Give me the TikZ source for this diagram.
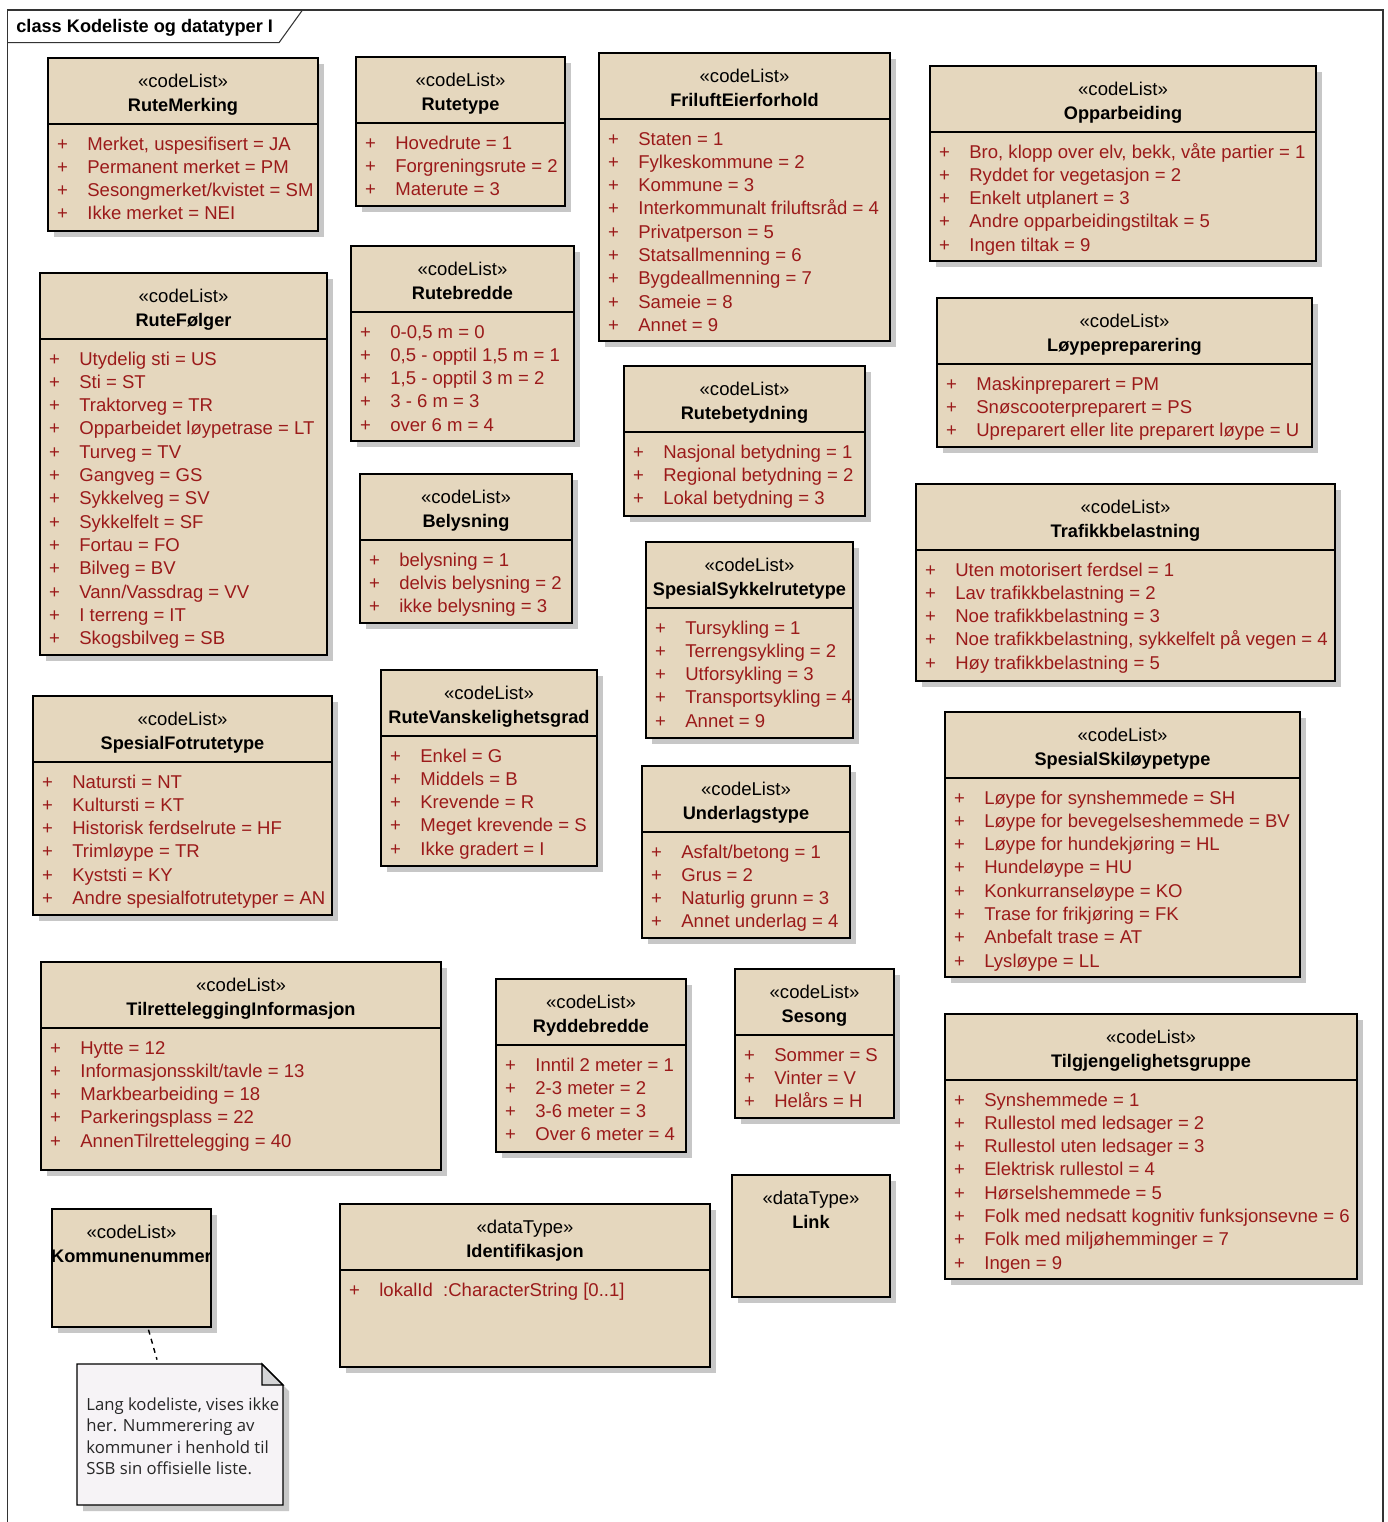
\documentclass[tikz,border=0pt]{standalone}
\usepackage{fontspec}
\setmainfont{Liberation Sans}
\newfontfamily\notefont{Open Sans}
\usetikzlibrary{fit}

\definecolor{clsfill}{RGB}{229,215,190}
\definecolor{attrred}{RGB}{155,26,26}
\definecolor{notefill}{RGB}{246,243,246}
\definecolor{foldfill}{RGB}{212,212,214}

\newcommand{\umlfont}{\fontsize{10.55}{12}\selectfont}
\newcommand{\umlbold}{\fontsize{10.35}{12}\selectfont\bfseries}

\tikzset{
    classbox/.style={draw=black, line width=0.8pt, fill=clsfill, inner sep=0pt},
    classline/.style={black, line width=0.8pt},
    boxshadow/.style={fill=black!22},
    stereo/.style={font=\umlfont, inner sep=0pt, anchor=base},
    clsname/.style={font=\umlbold, inner sep=0pt, anchor=base},
    plusmark/.style={font=\umlfont, text=attrred, inner sep=0pt, anchor=base},
    attr/.style={font=\umlfont, text=attrred, inner sep=0pt, anchor=base west},
    noteline/.style={black, line width=0.8pt},
    notelink/.style={black, line width=0.8pt, dash pattern=on 0.1cm off 0.09cm}
}

% #1 name, #2 left, #3 top, #4 right, #5 bottom, #6 stereotype, #7 class name, #8 attributes
\newcommand{\umlclass}[8]{
    \fill[boxshadow] (#2+6,#3+6) rectangle (#4+6,#5+6);
    \path (#2,#3) coordinate (#1-nw) (#4,#5) coordinate (#1-se);
    \node[classbox, fit=(#1-nw)(#1-se)] (#1) {};
    \node[stereo] (#1-st) at ({(#2+#4)/2},#3+29.5) {#6};
    \node[clsname] (#1-nm) at ({(#2+#4)/2},#3+53.5) {#7};
    \if\relax\detokenize{#8}\relax\else
        \draw[classline] (#2,#3+66) -- (#4,#3+66);
        \foreach \txt [count=\i from 0] in {#8} {
            \node[plusmark] at (#2+14.5,#3+92+23.3*\i) {+};
            \node[attr] (#1-a\i) at (#2+39,#3+92+23.3*\i) {\txt};
        }
    \fi
}

\begin{document}
\begin{tikzpicture}[x=0.02cm, y=-0.02cm]
    \useasboundingbox[fill=white] (0,0) rectangle (1387,1522);

    % frame
    \draw[black!80, line width=0.6pt] (7.5,1522) -- (7.5,10) -- (1383,10) -- (1383,1522);
    \draw[black!80, line width=0.6pt] (7.5,42.7) -- (279,42.7) -- (302.5,10);
    \node[font=\umlbold, inner sep=0pt, anchor=base west] (title) at (16,32.5) {class Kodeliste og datatyper I};

    % first column
    \umlclass{rutemerking}{48}{58}{318}{231}{«codeList»}{RuteMerking}
        {{Merket, uspesifisert = JA}, Permanent merket = PM, Sesongmerket/kvistet = SM, Ikke merket = NEI}
    \umlclass{rutefolger}{40}{273}{327}{655}{«codeList»}{RuteFølger}
        {Utydelig sti = US, Sti = ST, Traktorveg = TR, Opparbeidet løypetrase = LT, Turveg = TV,
         Gangveg = GS, Sykkelveg = SV, Sykkelfelt = SF, Fortau = FO, Bilveg = BV,
         Vann/Vassdrag = VV, I terreng = IT, Skogsbilveg = SB}
    \umlclass{fotrute}{33}{696}{332}{915}{«codeList»}{SpesialFotrutetype}
        {Natursti = NT, Kultursti = KT, Historisk ferdselrute = HF, Trimløype = TR, Kyststi = KY,
         Andre spesialfotrutetyper = AN}
    \umlclass{tilrettelegging}{41}{962}{441}{1170}{«codeList»}{TilretteleggingInformasjon}
        {Hytte = 12, Informasjonsskilt/tavle = 13, Markbearbeiding = 18, Parkeringsplass = 22,
         AnnenTilrettelegging = 40}
    \umlclass{kommunenummer}{52}{1209}{211}{1327}{«codeList»}{Kommunenummer}{}

    % second column
    \umlclass{rutetype}{356}{57}{565}{206}{«codeList»}{Rutetype}
        {Hovedrute = 1, Forgreningsrute = 2, Materute = 3}
    \umlclass{rutebredde}{351}{246}{574}{441}{«codeList»}{Rutebredde}
        {{0-0,5 m = 0}, {0,5 - opptil 1,5 m = 1}, {1,5 - opptil 3 m = 2}, 3 - 6 m = 3, over 6 m = 4}
    \umlclass{belysning}{360}{474}{572}{623}{«codeList»}{Belysning}
        {belysning = 1, delvis belysning = 2, ikke belysning = 3}
    \umlclass{vanskelighet}{381}{670}{597}{866}{«codeList»}{RuteVanskelighetsgrad}
        {Enkel = G, Middels = B, Krevende = R, Meget krevende = S, Ikke gradert = I}
    \umlclass{ryddebredde}{496}{979}{686}{1152}{«codeList»}{Ryddebredde}
        {Inntil 2 meter = 1, 2-3 meter = 2, 3-6 meter = 3, Over 6 meter = 4}
    \umlclass{identifikasjon}{340}{1204}{710}{1367}{«dataType»}{Identifikasjon}
        {lokalId\ \ :CharacterString [0..1]}

    % third column
    \umlclass{friluft}{599}{53}{890}{341}{«codeList»}{FriluftEierforhold}
        {Staten = 1, Fylkeskommune = 2, Kommune = 3, Interkommunalt friluftsråd = 4, Privatperson = 5,
         Statsallmenning = 6, Bygdeallmenning = 7, Sameie = 8, Annet = 9}
    \umlclass{rutebetydning}{624}{366}{865}{516}{«codeList»}{Rutebetydning}
        {Nasjonal betydning = 1, Regional betydning = 2, Lokal betydning = 3}
    \umlclass{sykkel}{646}{542}{853}{738}{«codeList»}{SpesialSykkelrutetype}
        {Tursykling = 1, Terrengsykling = 2, Utforsykling = 3, Transportsykling = 4, Annet = 9}
    \umlclass{underlag}{642}{766}{850}{938}{«codeList»}{Underlagstype}
        {Asfalt/betong = 1, Grus = 2, Naturlig grunn = 3, Annet underlag = 4}
    \umlclass{sesong}{735}{969}{894}{1118}{«codeList»}{Sesong}
        {Sommer = S, Vinter = V, Helårs = H}
    \umlclass{link}{732}{1175}{890}{1297}{«dataType»}{Link}{}

    % fourth column
    \umlclass{opparbeiding}{930}{66}{1316}{261}{«codeList»}{Opparbeiding}
        {{Bro, klopp over elv, bekk, våte partier = 1}, Ryddet for vegetasjon = 2, Enkelt utplanert = 3,
         Andre opparbeidingstiltak = 5, Ingen tiltak = 9}
    \umlclass{loypeprep}{937}{298}{1312}{447}{«codeList»}{Løypepreparering}
        {Maskinpreparert = PM, Snøscooterpreparert = PS, Upreparert eller lite preparert løype = U}
    \umlclass{trafikk}{916}{484}{1335}{681}{«codeList»}{Trafikkbelastning}
        {Uten motorisert ferdsel = 1, Lav trafikkbelastning = 2, Noe trafikkbelastning = 3,
         {Noe trafikkbelastning, sykkelfelt på vegen = 4}, Høy trafikkbelastning = 5}
    \umlclass{skiloype}{945}{712}{1300}{977}{«codeList»}{SpesialSkiløypetype}
        {Løype for synshemmede = SH, Løype for bevegelseshemmede = BV, Løype for hundekjøring = HL,
         Hundeløype = HU, Konkurranseløype = KO, Trase for frikjøring = FK, Anbefalt trase = AT,
         Lysløype = LL}
    \umlclass{tilgjengelighet}{945}{1014}{1357}{1279}{«codeList»}{Tilgjengelighetsgruppe}
        {Synshemmede = 1, Rullestol med ledsager = 2, Rullestol uten ledsager = 3, Elektrisk rullestol = 4,
         Hørselshemmede = 5, Folk med nedsatt kognitiv funksjonsevne = 6, Folk med miljøhemminger = 7,
         Ingen = 9}

    % note
    \fill[boxshadow] (83,1370) -- (268,1370) -- (289,1391) -- (289,1511) -- (83,1511) -- cycle;
    \path (77,1364) coordinate (note-nw) (283,1505) coordinate (note-se);
    \node[fit=(note-nw)(note-se), inner sep=0pt] (note) {};
    \draw[noteline, fill=notefill] (77,1364) -- (262,1364) -- (283,1385) -- (283,1505) -- (77,1505) -- cycle;
    \draw[noteline, fill=foldfill] (262,1364) -- (262,1385) -- (283,1385) -- cycle;
    \node[font=\notefont\fontsize{9.5}{12.3}\selectfont, text=black!85, align=left, inner sep=0pt,
        anchor=north west] (notetext) at (86,1397)
        {Lang kodeliste, vises ikke\\her. Nummerering av\\kommuner i henhold til\\SSB sin offisielle liste.};
    \draw[notelink] ([xshift=0.34cm, yshift=-0.04cm]kommunenummer.south) -- ([xshift=-0.46cm, yshift=0.08cm]note.north);
\end{tikzpicture}
\end{document}
